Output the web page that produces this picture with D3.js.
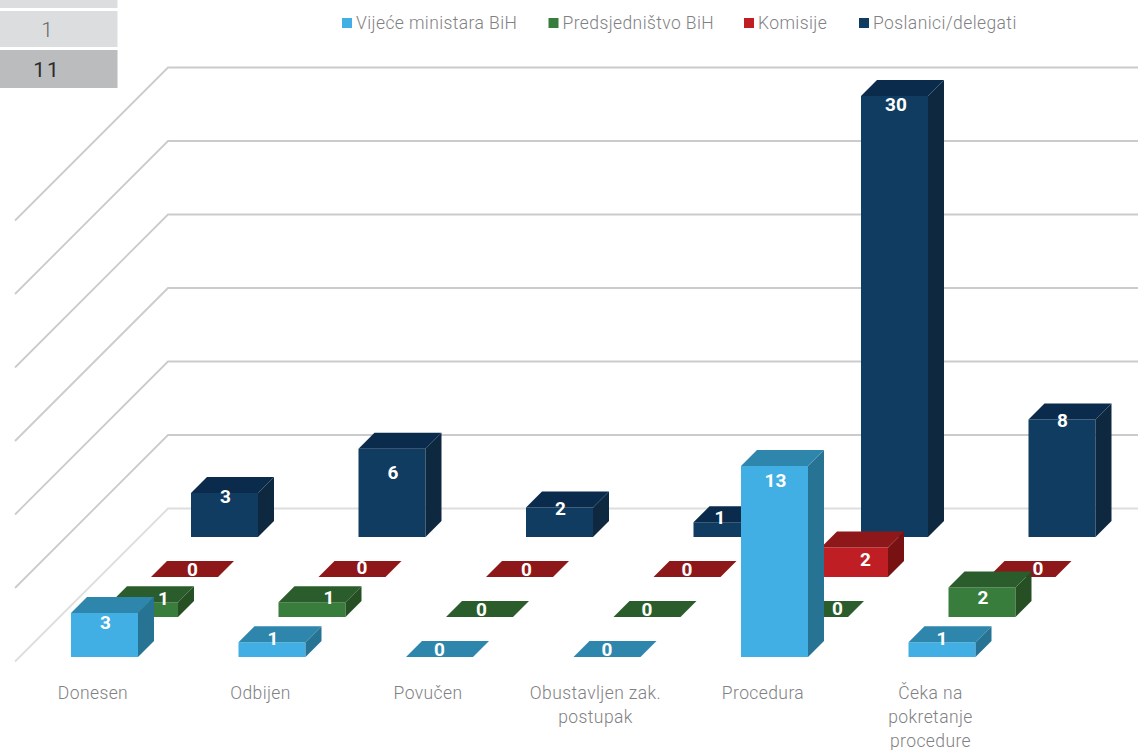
<!DOCTYPE html>
<html>
<head>
<meta charset="utf-8">
<script src="https://cdn.jsdelivr.net/npm/d3@7"></script>
<style>
  html, body { margin: 0; padding: 0; background: #fff; }
  text { font-family: Roboto, "Noto Sans", sans-serif; }
</style>
</head>
<body>
<div id="chart"></div>
<script>
// Chart data
var categories = ["Donesen", "Odbijen", "Povučen", "Obustavljen zak. postupak", "Procedura", "Čeka na pokretanje procedure"];
var seriesNames = ["Vijeće ministara BiH", "Predsjedništvo BiH", "Komisije", "Poslanici/delegati"];
var vijeceValues = [3, 1, 0, 0, 13, 1];
var predsjednistvoValues = [1, 1, 0, 0, 0, 2];
var komisijeValues = [0, 0, 0, 0, 2, 0];
var poslaniciValues = [3, 6, 2, 1, 30, 8];
var tableRows = ["", "1", "11"];

var seriesValues = [vijeceValues, predsjednistvoValues, komisijeValues, poslaniciValues];

// Front, top and side shades per series
var shades = [
    { front: "#41afe3", top: "#2e86ad", side: "#267393" },
    { front: "#387d3c", top: "#2b5d2c", side: "#264f24" },
    { front: "#be1e24", top: "#8d1719", side: "#781212" },
    { front: "#113c61", top: "#0b2b4d", side: "#0e2840" }
];

// Hand placement of the value labels, relative to the top centre of each bar front
var labelDx = [
    [1, 1, 0, 0, 1, 0],
    [19, 17, 2, 0, 23, 1],
    [8, 10, 7, 0, 11, 16],
    [1, 1, 1, -7, 1.5, 0.5]
];
var labelDy = [
    [9, -4, -8, -8, 14, -4],
    [-4, -5, -8, -8, -9, 9.5],
    [-8, -10, -8, -8, 12, -9],
    [3, 23, 1, -5, 8, 1]
];

var wrapLines = { "Obustavljen zak. postupak": ["Obustavljen zak.", "postupak"], "Čeka na pokretanje procedure": ["Čeka na", "pokretanje", "procedure"] };

var width = 1138, height = 750;
var baseY = 657;     // floor line of the front row
var cap = 16;        // depth of one bar
var textGrey = "#7f8184";

var svg = d3.select("#chart").append("svg")
    .attr("width", width)
    .attr("height", height)
    .style("display", "block");

var x = d3.scaleBand().domain(categories).range([71, 975.5]).paddingInner(0.6).paddingOuter(0);
var depth = d3.scalePoint().domain(seriesNames).range([0, 120]);
var h = d3.scaleLinear().domain([0, 30]).range([0, 441]);

var poly = d3.line();

// Table corner
var rowBoxes = [[0, 8, "#dcddde"], [11, 36, "#dcddde"], [50, 38, "#bbbcbe"]];
tableRows.forEach(function(t, i) {
    svg.append("rect").attr("x", 0).attr("y", rowBoxes[i][0]).attr("width", 117.5).attr("height", rowBoxes[i][1]).attr("fill", rowBoxes[i][2]);
    svg.append("text").attr("x", 47).attr("y", rowBoxes[i][0] + rowBoxes[i][1] / 2 + 7.5)
        .attr("text-anchor", "middle").attr("font-size", 21).attr("font-weight", i == 2 ? 400 : 300)
        .attr("letter-spacing", i == 2 ? 2 : 0)
        .attr("fill", i == 2 ? "#2b2b2b" : "#666").text(t);
});

// Legend
var legendX = [342, 548.5, 744, 859];
seriesNames.forEach(function(name, i) {
    svg.append("rect").attr("x", legendX[i]).attr("y", 18).attr("width", 10).attr("height", 10).attr("fill", shades[i].front);
    svg.append("text").attr("x", legendX[i] + 14).attr("y", 29).attr("font-size", 17.5).attr("font-weight", 300)
        .attr("letter-spacing", 0.4)
        .attr("fill", textGrey).text(name);
});

// Grid: back wall plus the diagonal down the left
var backX = 168, backFloor = 508.5, leftX = 15;
h.ticks(6).forEach(function(v) {
    var y = backFloor - h(v);
    svg.append("path")
        .attr("d", poly([[leftX, y + backX - leftX], [backX, y], [width, y]]))
        .attr("fill", "none")
        .attr("stroke", v == 0 ? "#dedede" : "#cbcbcb")
        .attr("stroke-width", 1.8);
});

// Bars, back row first
d3.range(seriesNames.length - 1, -1, -1).forEach(function(s) {
    var name = seriesNames[s];
    categories.forEach(function(cat, c) {
        var v = seriesValues[s][c];
        var x0 = x(cat) + depth(name), x1 = x0 + x.bandwidth();
        var y0 = baseY - depth(name), y1 = y0 - h(v);
        var g = svg.append("g");
        g.append("path").attr("fill", shades[s].front)
            .attr("d", poly([[x0, y0], [x1, y0], [x1, y1], [x0, y1]]) + "Z");
        g.append("path").attr("fill", shades[s].side)
            .attr("d", poly([[x1, y0], [x1 + cap, y0 - cap], [x1 + cap, y1 - cap], [x1, y1]]) + "Z");
        g.append("path").attr("fill", shades[s].top)
            .attr("d", poly([[x0, y1], [x1, y1], [x1 + cap, y1 - cap], [x0 + cap, y1 - cap]]) + "Z");
        g.append("text")
            .attr("x", (x0 + x1) / 2 + labelDx[s][c])
            .attr("y", y1 + labelDy[s][c])
            .attr("dy", "0.36em")
            .attr("text-anchor", "middle")
            .attr("font-size", 19)
            .attr("font-weight", 700)
            .attr("fill", "#fff")
            .text(v);
    });
});

// Category labels
categories.forEach(function(cat) {
    var lines = wrapLines[cat] || [cat];
    var t = svg.append("text")
        .attr("x", x(cat) + x.bandwidth() / 2 - 11.5)
        .attr("y", 699)
        .attr("text-anchor", "middle")
        .attr("font-size", 17.5)
        .attr("font-weight", 300)
        .attr("letter-spacing", 0.4)
        .attr("fill", textGrey);
    lines.forEach(function(l, i) {
        t.append("tspan").attr("x", x(cat) + x.bandwidth() / 2 - 11.5).attr("dy", i == 0 ? 0 : 24).text(l);
    });
});
</script>
</body>
</html>
